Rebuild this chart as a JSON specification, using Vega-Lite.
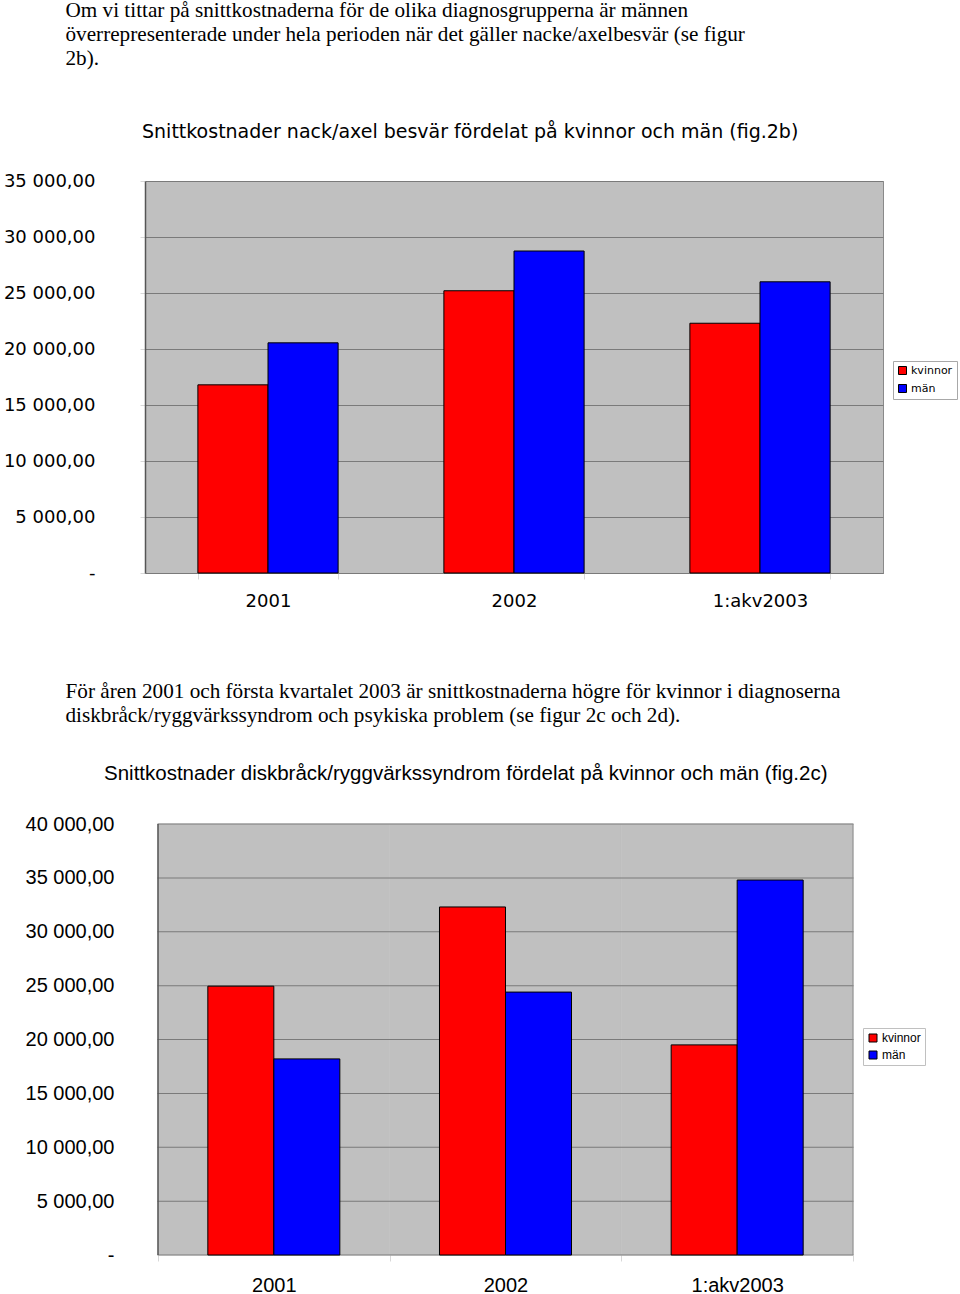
{
  "$schema": "https://vega.github.io/schema/vega-lite/v6.json",
  "padding": 0,
  "background": "white",
  "spacing": 37,
  "resolve": {"scale": {"color": "independent", "xOffset": "independent"}, "legend": {"color": "independent"}},
  "title": {
    "text": ["Om vi tittar på snittkostnaderna för de olika diagnosgrupperna är männen", "överrepresenterade under hela perioden när det gäller nacke/axelbesvär (se figur", "2b)."],
    "anchor": "start",
    "frame": "bounds",
    "dx": 65,
    "font": "Liberation Serif",
    "fontSize": 21.2,
    "fontWeight": "normal",
    "color": "black",
    "lineHeight": 24,
    "offset": 53
  },
  "config": {
    "view": {"fill": "#c0c0c0", "stroke": "#8a8a8a", "strokeWidth": 1},
    "axis": {"labelColor": "black", "tickColor": "#d8d8d8", "gridColor": "#7a7a7a", "gridOpacity": 1, "domainColor": "#666666"}
  },
  "vconcat": [
    {
      "width": 738,
      "height": 392,
      "title": {
        "text": "Snittkostnader nack/axel besvär fördelat på kvinnor och män (fig.2b)",
        "anchor": "start",
        "frame": "group",
        "dx": -3,
        "font": "DejaVu Sans",
        "fontSize": 19,
        "fontWeight": "normal",
        "color": "black",
        "offset": 28
      },
      "data": {"values": [
        {"year": "2001", "kon": "kvinnor", "value": 16800},
        {"year": "2001", "kon": "män", "value": 20550},
        {"year": "2002", "kon": "kvinnor", "value": 25200},
        {"year": "2002", "kon": "män", "value": 28750},
        {"year": "1:akv2003", "kon": "kvinnor", "value": 22300},
        {"year": "1:akv2003", "kon": "män", "value": 26000}
      ]},
      "mark": {"type": "bar", "stroke": "black", "strokeWidth": 1},
      "encoding": {
        "x": {
          "field": "year", "type": "nominal", "sort": ["2001", "2002", "1:akv2003"],
          "scale": {"paddingInner": 0.43, "paddingOuter": 0.215},
          "axis": {
            "title": ["För åren 2001 och första kvartalet 2003 är snittkostnaderna högre för kvinnor i diagnoserna", "diskbråck/ryggvärkssyndrom och psykiska problem (se figur 2c och 2d)."],
            "titleFont": "Liberation Serif", "titleFontSize": 21.2, "titleFontWeight": "normal", "titleColor": "black",
            "titleLineHeight": 24, "titleAlign": "left", "titleAnchor": "start", "titleBaseline": "top",
            "titleX": -80, "titleY": 107,
            "tickBand": "extent", "tickSize": 6, "labelAngle": 0,
            "labelFont": "DejaVu Sans", "labelFontSize": 18, "labelPadding": 13,
            "domainColor": "#7a7a7a"
          }
        },
        "xOffset": {"field": "kon", "type": "nominal", "sort": ["kvinnor", "män"], "scale": {"paddingInner": 0, "paddingOuter": 0}},
        "y": {
          "field": "value", "type": "quantitative",
          "scale": {"domain": [0, 35000], "nice": false},
          "axis": {
            "title": "\u00a0", "titleAngle": 0, "titleX": -144, "titleY": 0, "titleAlign": "left",
            "values": [0, 5000, 10000, 15000, 20000, 25000, 30000, 35000],
            "labelExpr": "datum.value == 0 ? '-' : replace(replace(format(datum.value, ',.2f'), ',', ' '), '.', ',')",
            "labelFont": "DejaVu Sans", "labelFontSize": 18, "labelPadding": 45, "tickSize": 5,
            "grid": true, "domainColor": "#555555", "domainWidth": 1.5
          }
        },
        "color": {
          "field": "kon", "type": "nominal",
          "scale": {"domain": ["kvinnor", "män"], "range": ["#ff0000", "#0000ff"]},
          "legend": {
            "title": null, "orient": "none", "legendX": 748, "legendY": 180,
            "fillColor": "white", "strokeColor": "#a8a8a8", "padding": 4,
            "symbolType": "square", "symbolSize": 64, "symbolStrokeColor": "black", "symbolStrokeWidth": 1,
            "labelFont": "DejaVu Sans", "labelFontSize": 11, "labelColor": "black", "rowPadding": 5, "labelOffset": 3
          }
        }
      }
    },
    {
      "width": 708,
      "height": 431,
      "view": {"fill": null, "stroke": null},
      "resolve": {"scale": {"xOffset": "independent"}},
      "title": {
        "text": "Snittkostnader diskbråck/ryggvärkssyndrom fördelat på kvinnor och män (fig.2c)",
        "anchor": "start",
        "frame": "group",
        "dx": -41,
        "font": "Liberation Sans",
        "fontSize": 20.5,
        "fontWeight": "normal",
        "color": "black",
        "offset": 30
      },
      "layer": [
        {
          "data": {"values": [
            {"year": "2001", "top": 40000},
            {"year": "2002", "top": 40000},
            {"year": "1:akv2003", "top": 40000}
          ]},
          "mark": {"type": "bar", "color": "#c0c0c0", "opacity": 1, "stroke": "#c0c0c0", "strokeOpacity": 1, "strokeWidth": 0.6},
          "encoding": {
            "x": {
              "field": "year", "type": "nominal",
              "scale": {"domain": ["2001", "2002", "1:akv2003"], "paddingInner": 0, "paddingOuter": 0.02806, "align": 1},
              "axis": {
                "title": null, "domain": false,
                "tickBand": "extent", "tickSize": 6, "labelAngle": 0,
                "labelFont": "Liberation Sans", "labelFontSize": 20, "labelPadding": 14
              }
            },
            "y": {
              "field": "top", "type": "quantitative",
              "scale": {"domain": [0, 40000], "nice": false},
              "axis": {
                "title": null, "domain": false, "ticks": false, "grid": false,
                "values": [0, 5000, 10000, 15000, 20000, 25000, 30000, 35000, 40000],
                "labelExpr": "datum.value == 0 ? '-' : replace(replace(format(datum.value, ',.2f'), ',', ' '), '.', ',')",
                "labelFont": "Liberation Sans", "labelFontSize": 20, "labelPadding": 31
              }
            }
          }
        },
        {
          "data": {"values": [
            {"year": "2002", "g": 0},
            {"year": "2002", "g": 5000},
            {"year": "2002", "g": 10000},
            {"year": "2002", "g": 15000},
            {"year": "2002", "g": 20000},
            {"year": "2002", "g": 25000},
            {"year": "2002", "g": 30000},
            {"year": "2002", "g": 35000},
            {"year": "2002", "g": 40000}
          ]},
          "mark": {"type": "tick", "orient": "horizontal", "size": 696, "thickness": 1, "color": "#7a7a7a", "opacity": 1},
          "encoding": {
            "x": {"field": "year", "type": "nominal"},
            "y": {"field": "g", "type": "quantitative"}
          }
        },
        {
          "data": {"values": [{"year": "2001", "lo": 0, "hi": 40000}]},
          "mark": {"type": "rule", "color": "#555555", "strokeWidth": 1.5},
          "encoding": {
            "x": {"field": "year", "type": "nominal", "bandPosition": 0},
            "y": {"field": "lo", "type": "quantitative"},
            "y2": {"field": "hi"}
          }
        },
        {
          "data": {"values": [{"year": "1:akv2003", "lo": 0, "hi": 40000}]},
          "mark": {"type": "rule", "color": "#8a8a8a", "strokeWidth": 1},
          "encoding": {
            "x": {"field": "year", "type": "nominal", "bandPosition": 1},
            "y": {"field": "lo", "type": "quantitative"},
            "y2": {"field": "hi"}
          }
        },
        {
          "data": {"values": [
            {"year": "2001", "kon": "kvinnor", "value": 24950},
            {"year": "2001", "kon": "män", "value": 18200},
            {"year": "2002", "kon": "kvinnor", "value": 32300},
            {"year": "2002", "kon": "män", "value": 24400},
            {"year": "1:akv2003", "kon": "kvinnor", "value": 19500},
            {"year": "1:akv2003", "kon": "män", "value": 34800}
          ]},
          "mark": {"type": "bar", "stroke": "black", "strokeWidth": 1},
          "encoding": {
            "x": {"field": "year", "type": "nominal"},
            "xOffset": {"field": "kon", "type": "nominal", "sort": ["kvinnor", "män"], "scale": {"paddingInner": 0, "paddingOuter": 0.755}},
            "y": {"field": "value", "type": "quantitative"},
            "color": {
              "field": "kon", "type": "nominal",
              "scale": {"domain": ["kvinnor", "män"], "range": ["#ff0000", "#0000ff"]},
              "legend": {
                "title": null, "orient": "none", "legendX": 718, "legendY": 204,
                "fillColor": "white", "strokeColor": "#c0c0c0", "padding": 4,
                "symbolType": "square", "symbolSize": 64, "symbolStrokeColor": "black", "symbolStrokeWidth": 1,
                "labelFont": "Liberation Sans", "labelFontSize": 12, "labelColor": "black", "rowPadding": 5, "labelOffset": 3
              }
            }
          }
        }
      ]
    }
  ]
}
